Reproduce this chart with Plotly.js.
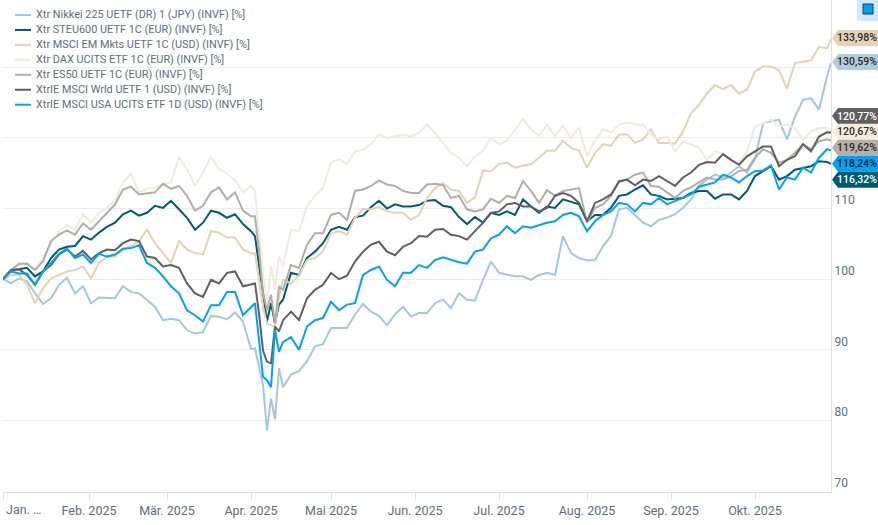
<!DOCTYPE html>
<html><head><meta charset="utf-8">
<script src="https://cdn.plot.ly/plotly-3.0.1.min.js"></script>
<style>html,body{margin:0;padding:0;background:#fff}#c{width:878px;height:525px}</style>
</head><body><div id="c"></div>
<script>
// trading-day index of each sampled point
const days = [0,2,4,6,8,10,12,14,16,18,20,22,24,26,28,30,32,34,36,38,40,42,44,46,48,50,52,54,56,58,60,62,
63,64,65,66,67,68,69,70,
72,74,76,78,80,82,84,86,88,90,92,94,96,98,100,102,104,106,108,110,112,114,116,118,
120,122,124,126,128,130,132,134,136,138,140,142,144,146,148,150,152,154,156,158,160,162,164,
166,168,170,172,174,176,178,180,182,184,186,188,190,192,194,196,198,200,202,204,206,207];

const nikkei = [100.1,99.4,100.1,99.7,98,96.5,97.3,99.2,100.2,98,99,96.6,97.4,97.3,97.3,99,98.2,98,97,96.1,94.2,94.4,94.2,92.8,92.3,92.5,94.8,94.7,94.3,95.3,94,90.1,
90.2,87.6,85,78.6,83.1,80.2,87.4,84.7,
86.5,87,88.4,90.5,90.8,93.1,93.1,93.1,95,96.5,95.4,94.8,93.5,95,96.1,94.7,95.2,95.2,96.6,97.1,95.9,98,97.1,97,
99.9,102.5,100.9,100.6,100.4,100.4,99.9,100.6,100.9,100.6,106.1,103.7,103,102.7,102.7,104.7,106.1,109.9,110.1,109.1,108,107.5,108.4,
108.7,109.2,110.1,111.3,113.2,114.1,114.8,114.4,115.1,116,115.1,117,122.1,122.3,122.6,119.8,123,125.4,125.6,124,128.7,130.59];

const steu600 = [100,101.3,101.4,101.6,100.4,101.1,103,104.2,104.6,104.7,106.1,105.6,106.6,107.4,108,109.2,109.7,109,109.4,110.4,110.1,111.1,109.9,108.7,107,108,109.7,109.4,108.7,109.2,107.8,106.8,
106.1,102.3,98,94,96.6,93.8,96.4,97.1,
100.9,100.6,103,103.9,105.1,107,107.4,107,108.8,109,110.2,111.1,110,110.6,110.3,110.3,110.5,111.1,111.2,110.4,110.2,108.8,107.8,108.8,
108,109.4,109.1,109.6,109.1,111.3,110.3,109.4,110.3,110.1,111.3,111,110.6,108.2,109.1,109.1,110.1,111.8,112,112.7,113.3,112,111.8,
111.3,111.4,111.5,112.2,112.5,112.5,111.4,112,112,111.3,112.5,114.6,115.3,116,114.1,114.6,115.5,115.8,116,116.7,116.6,116.32];

const msciEm = [99.9,100.6,100.6,99.2,96.6,98.7,100.1,100.6,101.1,101.3,101.8,100.1,102.3,103.2,103.2,104.2,104.7,105.4,107,105.1,103.7,102.3,105.4,104.2,103.7,103.5,106.8,106.6,105.9,105.9,104.2,103.7,
103.6,99.9,96.1,93.7,93.5,93.3,97.5,99.9,
99.4,100.6,102.7,103,103.9,106.5,106.8,106.3,108.7,109.9,109.9,110.2,109.6,109.4,109.4,108.4,109.1,111.5,112.9,113.6,112.7,112.5,110.8,111.6,
115.4,115.3,116.3,116.5,115.8,116,116.3,117.2,118.2,118.2,119.6,118.6,118.2,115.8,117.9,119.1,118.9,120.5,120.5,119.3,119.8,121.2,119.3,
119.3,119.2,120.9,123.5,124.7,126.3,127.5,126.9,127.5,126.3,126.8,129.4,130.1,130.1,129.6,127,130.6,130.8,131,132.9,132.7,133.98];

const dax = [100.1,101.3,102,102.3,101.3,103.2,105.1,106.8,107.6,107,109.2,108,109.4,110.1,111.1,113.7,114.9,112.3,112.8,113,113.5,113.7,117.3,115.6,113.2,115.1,117.3,115.6,115,114,112.3,113.2,
112.5,107,100.9,96.6,101.8,98.5,103.2,102,
107,106.8,110.3,111.8,112.9,116.5,117,116.3,118.1,118.3,119.1,120.5,120,120.2,120.5,120.2,120.7,121.9,120.7,119.3,117.9,117.2,116,117.4,
118.2,120,119.1,119.6,121.2,122.7,121.2,120.3,121.9,120.3,121.7,120,121.5,117.4,119.6,121.2,120.8,121.9,122.2,121.9,121.9,120.5,119.8,
120.2,118.1,119.5,119.1,118.6,116.9,118.1,117.7,116.9,116.5,118.1,121.6,122.1,122.6,121.6,121.9,121.4,119.8,120.9,121.4,121.4,120.67];

const es50 = [100.1,101.3,102.2,102.2,101.3,102.5,105.4,106.3,106.9,106.3,107.9,107,108.2,109.4,110.6,112.7,113.1,112,112.2,112.3,113.5,112.8,113.2,111.8,109.7,110.4,112.3,113,111.3,112.3,109.7,108.9,
108.9,104.2,98,95.6,97.8,93.7,99,98.5,
102,101.6,104.9,106.5,106.5,109.1,109.4,108.4,112.5,112.7,113.2,114,113.4,113.2,112.5,112.2,112.2,113.4,113.5,113.3,111.5,111.8,109.9,109.6,
109.9,111.4,110.8,111.8,111.5,113.9,112.5,110.8,112.6,111.8,112.5,112.7,112.9,108,110.1,110.6,111.8,113.9,114.1,114.8,115.1,113.2,113.1,
112.3,111.5,112.5,113,113.7,114.4,114.1,114.1,114.6,115.3,115.5,117.2,118.4,117.9,116.5,116.9,117.9,119.1,118.4,119.5,119.8,119.62];

const wrld = [100,101.3,101.4,100.6,99.2,101.1,102,103.5,104.2,103.2,104,102.8,103.7,104.2,104.1,105.1,105.6,105.4,103.2,103,101.8,102,101.6,99.4,98,97.5,99.9,99.4,100.9,101.1,99,99.2,
99.4,95.2,89.9,88.3,88.1,93.3,92.6,94.2,
95.4,94.2,97.3,98.5,99.2,100.9,100,100.5,102.5,103.9,104.9,105.3,103.9,103.4,104.6,105.1,106.1,106,107,107.1,106.3,106.1,105.6,106.8,
108,109.4,109.6,110.6,110.8,110.3,110.3,109.6,110.1,111.8,112.2,111.8,110.8,108.2,110.8,111.3,112,113.8,114.1,113.3,114.1,113.9,114.6,
113.9,113.2,114.4,115.1,116.2,116.6,116.5,117.7,116.9,116.2,117.4,118.1,118.8,118.8,116,116.9,117.4,119.1,118.1,120.2,120.8,120.77];

const usa = [99.9,101.1,100.8,100.8,99.2,101.1,102.3,103.6,104.3,103,103.5,102.3,103.6,103.2,103.5,104.3,104.4,104.8,102.3,101.6,100.4,99,98,95.6,94.9,94,96.3,96.3,98.2,98.2,94.9,96.1,
96.6,91.4,86.2,85.7,84.7,92.8,89.7,91.1,
91.8,90,93.3,94.2,94.5,96.8,95.6,96.4,96.6,100.6,101.3,101.8,99.9,99,100.9,100.9,102,101.6,102.7,103.1,102.7,102.4,102.2,103.9,
104.2,105.8,106.3,107.5,106.5,107.5,107.3,107.7,108,108.2,109.1,109.4,108.9,106.8,108.2,109.1,109.6,110.8,110.6,109.6,110.8,110.6,111.5,
110.6,111.1,111.5,112,113.1,113.4,113.7,114.8,114.4,113.7,114.6,115.3,115.4,116.1,112.7,114.4,114.1,115.8,115.1,117.2,118.4,118.24];

const names = ["Xtr Nikkei 225 UETF (DR) 1 (JPY) (INVF) [%]","Xtr STEU600 UETF 1C (EUR) (INVF) [%]","Xtr MSCI EM Mkts UETF 1C (USD) (INVF) [%]","Xtr DAX UCITS ETF 1C (EUR) (INVF) [%]","Xtr ES50 UETF 1C (EUR) (INVF) [%]","XtrIE MSCI Wrld UETF 1 (USD) (INVF) [%]","XtrIE MSCI USA UCITS ETF 1D (USD) (INVF) [%]"];
const colors = ["#a5c8d8","#005a70","#e2d3b5","#f1ebdd","#b1ada7","#5f5f5f","#00a2f2"];
const seriesList = [nikkei,steu600,msciEm,dax,es50,wrld,usa];

const monthTicks = [21.5,41,62,82,103,124,146,167,188];
const monthLabels = ["Feb. 2025","Mär. 2025","Apr. 2025","Mai 2025","Jun. 2025","Jul. 2025","Aug. 2025","Sep. 2025","Okt. 2025"];
const yTicks = [70,80,90,100,110,120,130];
const yLabels = ["70","80","90","100","110","",""];

const tagTexts = ["133,98%","130,59%","120,77%","120,67%","119,62%","118,24%","116,32%"];
const tagLevels = [134.16,130.76,123.1,120.86,118.6,116.34,114.07];
const tagFill = ["#e2d3b5","#b3cedb","#5f5f5f","#f3eddf","#b5b0a9","#00a2f2","#005a70"];
const tagInk = ["#2b2b2b","#2b2b2b","#ffffff","#2b2b2b","#2b2b2b","#10222c","#ffffff"];

const ink = "#5c6f79", FONT = "Roboto, sans-serif";
const H = 492.5;
const shapes = [], annotations = [];

tagTexts.forEach((t,i)=>{
  shapes.push({type:"path",xref:"paper",yref:"y",xsizemode:"pixel",ysizemode:"pixel",xanchor:1,yanchor:tagLevels[i],
    path:"M 1 0 L 7 -8 L 47 -8 L 47 8 L 7 8 Z",fillcolor:tagFill[i],line:{width:0},layer:"above"});
  annotations.push({xref:"paper",yref:"y",x:1,y:tagLevels[i],xshift:5,xanchor:"left",yanchor:"middle",showarrow:false,
    text:t,font:{family:FONT,size:10.5,color:tagInk[i],weight:500},borderpad:0});
});
names.forEach((n,i)=>{
  const py = 15+i*14.95;
  shapes.push({type:"line",xref:"paper",yref:"paper",xsizemode:"pixel",ysizemode:"pixel",xanchor:0,yanchor:1,
    x0:12,x1:28,y0:-py,y1:-py,line:{color:colors[i],width:2},layer:"above"});
  annotations.push({xref:"paper",yref:"paper",x:0,y:1-py/H,xshift:31,xanchor:"left",yanchor:"middle",showarrow:false,
    text:n,font:{family:FONT,size:10.9,color:ink}});
});
annotations.push({xref:"paper",yref:"paper",x:0,y:0,xshift:1,yshift:-8,xanchor:"left",yanchor:"top",showarrow:false,
  text:"Jan. …",font:{family:FONT,size:12.5,color:ink}});
shapes.push({type:"rect",xref:"paper",yref:"paper",xsizemode:"pixel",ysizemode:"pixel",xanchor:1,yanchor:1,
  x0:26,x1:47,y0:0,y1:-21,fillcolor:"#cfe9fb",line:{width:0},layer:"above"});
shapes.push({type:"rect",xref:"paper",yref:"paper",xsizemode:"pixel",ysizemode:"pixel",xanchor:1,yanchor:1,
  x0:32,x1:42,y0:-4,y1:-14,fillcolor:"#00a2f2",line:{color:"#2a3a44",width:1},layer:"above"});

const traces = seriesList.map((s,i)=>({type:"scatter",mode:"lines",name:names[i],x:days,y:s,
  line:{color:colors[i],width:2,shape:"linear"},hoverinfo:"skip",showlegend:false}));

Plotly.newPlot("c",traces,{
  width:878,height:525,margin:{l:3,r:47,t:0,b:32.5,pad:0},
  paper_bgcolor:"#fff",plot_bgcolor:"#fff",font:{family:FONT,size:12,color:ink},showlegend:false,
  xaxis:{range:[0,207],tickmode:"array",tickvals:[0].concat(monthTicks),ticktext:[""].concat(monthLabels),
    showgrid:false,zeroline:false,showline:true,linecolor:"#dde1e3",linewidth:1,ticks:"outside",ticklen:7,tickcolor:"#dde1e3",tickwidth:1,
    tickfont:{family:FONT,size:12.5,color:ink},tickangle:0},
  yaxis:{range:[69.87,139.53],side:"right",tickmode:"array",tickvals:yTicks,ticktext:yLabels,
    ticklabelposition:"outside top",showgrid:true,gridcolor:"#eeeeee",gridwidth:1,zeroline:false,showline:true,linecolor:"#dde1e3",linewidth:1,ticks:"",
    tickfont:{family:FONT,size:12,color:ink}},
  shapes,annotations
},{displayModeBar:false,staticPlot:true});
</script></body></html>
